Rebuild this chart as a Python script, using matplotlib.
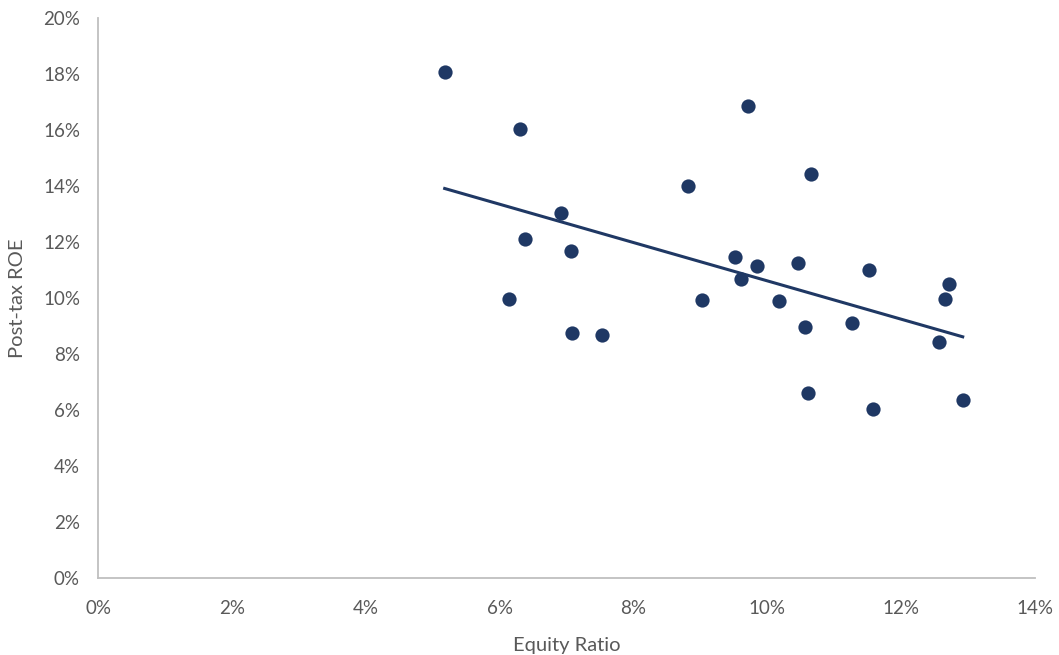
import matplotlib.pyplot as plt
import numpy as np
from matplotlib.ticker import FuncFormatter, MultipleLocator

# Data (percent)
equity_ratio = [5.18, 6.31, 9.71, 10.65, 8.82, 6.92, 6.38, 7.07, 9.52, 9.85,
                10.46, 11.52, 12.71, 9.61, 6.14, 9.02, 10.17, 12.66, 10.56, 11.27,
                7.08, 7.53, 12.57, 10.61, 11.58, 12.92]
post_tax_roe = [18.07, 16.04, 16.86, 14.43, 14.00, 13.04, 12.11, 11.68, 11.46, 11.14,
                11.25, 11.00, 10.50, 10.68, 9.96, 9.93, 9.89, 9.96, 8.96, 9.11,
                8.75, 8.68, 8.43, 6.61, 6.04, 6.36]

plt.rcParams['font.family'] = ['Lato', 'DejaVu Sans']

navy = '#1F3864'
grey_text = '#595959'
axis_grey = '#BFBFBF'

fig = plt.figure(figsize=(10.59, 6.55), dpi=100)
ax = fig.add_axes([98 / 1059, 77 / 655, 937 / 1059, 560 / 655])

x = np.array(equity_ratio)
y = np.array(post_tax_roe)
ax.scatter(x, y, s=105, color=navy, zorder=3, linewidths=0)

# Linear trendline
slope, intercept = np.polyfit(x, y, 1)
xs = np.array([x.min(), x.max()])
ax.plot(xs, slope * xs + intercept, color=navy, linewidth=2.2, zorder=2)

ax.set_xlim(0, 14)
ax.set_ylim(0, 20)
ax.xaxis.set_major_locator(MultipleLocator(2))
ax.yaxis.set_major_locator(MultipleLocator(2))
pct = FuncFormatter(lambda v, _: f"{v:.0f}%")
ax.xaxis.set_major_formatter(pct)
ax.yaxis.set_major_formatter(pct)

for side in ['top', 'right']:
    ax.spines[side].set_visible(False)
for side in ['left', 'bottom']:
    ax.spines[side].set_color(axis_grey)
    ax.spines[side].set_linewidth(1.3)
ax.tick_params(axis='x', length=0, labelsize=13.5, colors=grey_text, pad=16)
ax.tick_params(axis='y', length=0, labelsize=13.5, colors=grey_text, pad=13)

ax.set_xlabel('Equity Ratio', fontsize=14.5, color=grey_text, labelpad=14)
ax.set_ylabel('Post-tax ROE', fontsize=14.5, color=grey_text, labelpad=12)

fig.savefig('out.png', dpi=100)
